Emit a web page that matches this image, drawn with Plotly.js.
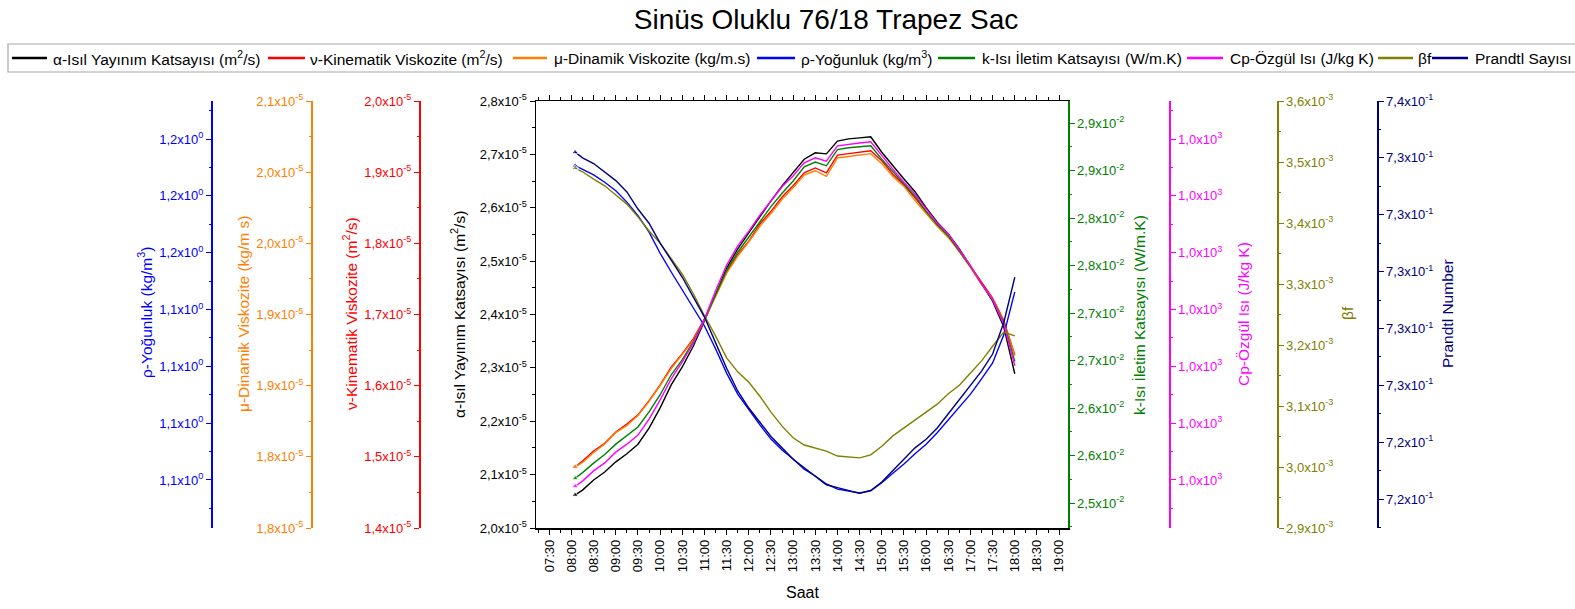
<!DOCTYPE html>
<html>
<head>
<meta charset="utf-8">
<script src="https://cdn.plot.ly/plotly-3.0.1.min.js"></script>
<style>html,body{margin:0;padding:0;background:#fff;}#chart{width:1575px;height:609px;}</style>
</head>
<body>
<div id="chart"></div>
<script>
// ---------------- DATA ----------------
const day = '2024-01-01 ';
const times = ['08:05','08:15','08:30','08:45','09:00','09:15','09:30','09:45','10:00','10:15','10:30','10:45','11:00','11:15','11:30','11:45','12:00','12:15','12:30','12:45','13:00','13:15','13:30','13:45','14:00','14:15','14:30','14:45','15:00','15:15','15:30','15:45','16:00','16:15','16:30','16:45','17:00','17:15','17:30','17:45','18:00'];

const alphaVals = [2.062e-5,2.071e-5,2.090e-5,2.105e-5,2.124e-5,2.139e-5,2.157e-5,2.187e-5,2.225e-5,2.268e-5,2.302e-5,2.341e-5,2.388e-5,2.438e-5,2.487e-5,2.523e-5,2.553e-5,2.585e-5,2.613e-5,2.641e-5,2.665e-5,2.691e-5,2.703e-5,2.701e-5,2.725e-5,2.729e-5,2.731e-5,2.733e-5,2.704e-5,2.678e-5,2.654e-5,2.630e-5,2.600e-5,2.573e-5,2.551e-5,2.523e-5,2.491e-5,2.457e-5,2.425e-5,2.377e-5,2.289e-5];
const nuVals = [1.486e-5,1.494e-5,1.508e-5,1.519e-5,1.535e-5,1.546e-5,1.559e-5,1.579e-5,1.601e-5,1.626e-5,1.645e-5,1.666e-5,1.694e-5,1.726e-5,1.760e-5,1.784e-5,1.803e-5,1.827e-5,1.845e-5,1.865e-5,1.881e-5,1.899e-5,1.906e-5,1.899e-5,1.924e-5,1.926e-5,1.928e-5,1.930e-5,1.916e-5,1.897e-5,1.882e-5,1.864e-5,1.844e-5,1.826e-5,1.810e-5,1.791e-5,1.768e-5,1.746e-5,1.723e-5,1.692e-5,1.643e-5];
const muVals = [1.793e-5,1.796e-5,1.803e-5,1.809e-5,1.817e-5,1.822e-5,1.829e-5,1.839e-5,1.850e-5,1.862e-5,1.872e-5,1.882e-5,1.896e-5,1.912e-5,1.929e-5,1.941e-5,1.951e-5,1.962e-5,1.971e-5,1.981e-5,1.989e-5,1.998e-5,2.001e-5,1.997e-5,2.010e-5,2.011e-5,2.012e-5,2.013e-5,2.006e-5,1.997e-5,1.990e-5,1.980e-5,1.971e-5,1.962e-5,1.954e-5,1.944e-5,1.933e-5,1.921e-5,1.911e-5,1.895e-5,1.871e-5];
const rhoVals = [1.1753,1.1746,1.1737,1.1724,1.1709,1.1689,1.1665,1.1636,1.1599,1.1566,1.1534,1.1501,1.1471,1.1431,1.1388,1.1351,1.1323,1.1297,1.1272,1.1253,1.1237,1.1219,1.1207,1.1193,1.1184,1.1181,1.1177,1.1181,1.1195,1.1212,1.1228,1.1246,1.1263,1.1283,1.1306,1.1328,1.1351,1.1378,1.1406,1.1455,1.1531];
const kVals = [2.526e-2,2.532e-2,2.542e-2,2.551e-2,2.562e-2,2.571e-2,2.580e-2,2.596e-2,2.614e-2,2.635e-2,2.651e-2,2.670e-2,2.693e-2,2.719e-2,2.745e-2,2.764e-2,2.780e-2,2.797e-2,2.812e-2,2.826e-2,2.839e-2,2.854e-2,2.859e-2,2.855e-2,2.872e-2,2.874e-2,2.875e-2,2.876e-2,2.862e-2,2.849e-2,2.836e-2,2.823e-2,2.807e-2,2.793e-2,2.781e-2,2.765e-2,2.749e-2,2.731e-2,2.714e-2,2.690e-2,2.649e-2];
const cpVals = [1005.989,1005.998,1006.016,1006.030,1006.049,1006.063,1006.079,1006.107,1006.141,1006.178,1006.208,1006.241,1006.283,1006.333,1006.378,1006.412,1006.438,1006.466,1006.491,1006.516,1006.535,1006.558,1006.567,1006.561,1006.588,1006.591,1006.593,1006.595,1006.570,1006.547,1006.524,1006.503,1006.477,1006.452,1006.433,1006.406,1006.377,1006.345,1006.317,1006.275,1006.201];
const betaVals = [3.490e-3,3.484e-3,3.472e-3,3.461e-3,3.446e-3,3.431e-3,3.410e-3,3.387e-3,3.367e-3,3.341e-3,3.316e-3,3.284e-3,3.248e-3,3.215e-3,3.179e-3,3.156e-3,3.139e-3,3.116e-3,3.090e-3,3.067e-3,3.048e-3,3.036e-3,3.031e-3,3.026e-3,3.018e-3,3.016e-3,3.015e-3,3.020e-3,3.034e-3,3.051e-3,3.064e-3,3.077e-3,3.090e-3,3.103e-3,3.120e-3,3.134e-3,3.154e-3,3.174e-3,3.198e-3,3.221e-3,3.215e-3];
const prVals = [0.7342,0.7340,0.7338,0.7335,0.7332,0.7328,0.7322,0.7317,0.7310,0.7304,0.7298,0.7291,0.7284,0.7275,0.7266,0.7258,0.7252,0.7247,0.7242,0.7238,0.7234,0.7231,0.7228,0.7225,0.7224,0.7223,0.7222,0.7223,0.7226,0.7230,0.7234,0.7238,0.7241,0.7245,0.7250,0.7255,0.7260,0.7265,0.7271,0.7282,0.7298];

// tick values / labels
const alphaTicks = [2.0e-5,2.1e-5,2.2e-5,2.3e-5,2.4e-5,2.5e-5,2.6e-5,2.7e-5,2.8e-5];
const alphaLabels = ['2,0','2,1','2,2','2,3','2,4','2,5','2,6','2,7','2,8'];
const nuTicks = [1.4e-5,1.5e-5,1.6e-5,1.7e-5,1.8e-5,1.9e-5,2.0e-5];
const nuLabels = ['1,4','1,5','1,6','1,7','1,8','1,9','2,0'];
const muTicks = [1.75e-5,1.80e-5,1.85e-5,1.90e-5,1.95e-5,2.00e-5,2.05e-5];
const muLabels = ['1,8','1,8','1,9','1,9','2,0','2,0','2,1'];
const rhoTicks = [1.12,1.13,1.14,1.15,1.16,1.17,1.18];
const rhoLabels = ['1,1','1,1','1,1','1,1','1,2','1,2','1,2'];
const kTicks = [2.50e-2,2.55e-2,2.60e-2,2.65e-2,2.70e-2,2.75e-2,2.80e-2,2.85e-2,2.90e-2];
const kLabels = ['2,5','2,6','2,6','2,7','2,7','2,8','2,8','2,9','2,9'];
const cpTicks = [1006.0,1006.1,1006.2,1006.3,1006.4,1006.5,1006.6];
const cpLabels = ['1,0','1,0','1,0','1,0','1,0','1,0','1,0'];
const betaTicks = [2.9e-3,3.0e-3,3.1e-3,3.2e-3,3.3e-3,3.4e-3,3.5e-3,3.6e-3];
const betaLabels = ['2,9','3,0','3,1','3,2','3,3','3,4','3,5','3,6'];
const prTicks = [0.722,0.724,0.726,0.728,0.730,0.732,0.734,0.736];
const prLabels = ['7,2','7,2','7,3','7,3','7,3','7,3','7,3','7,4'];

const seriesNames = ['α-Isıl Yayınım Katsayısı (m<sup>2</sup>/s)','ν-Kinematik Viskozite (m<sup>2</sup>/s)','μ-Dinamik Viskozite (kg/m.s)','ρ-Yoğunluk (kg/m<sup>3</sup>)','k-Isı İletim Katsayısı (W/m.K)','Cp-Özgül Isı (J/kg K)','βf','Prandtl Sayısı'];
const axisTitles = ['α-Isıl Yayınım Katsayısı (m<sup>2</sup>/s)','ν-Kinematik Viskozite (m<sup>2</sup>/s)','μ-Dinamik Viskozite (kg/m s)','ρ-Yoğunluk (kg/m<sup>3</sup>)','k-Isı İletim Katsayısı (W/m.K)','Cp-Özgül Isı (J/kg K)','βf','Prandtl Number'];

// ---------------- STYLE ----------------
const W = 1575, H = 609;
const FONT = 'Liberation Sans, Arial, Helvetica, sans-serif';
const colors = ['#000000','#ff0000','#ff8000','#0000ff','#008000','#ff00ff','#808000','#000080'];
const px = x => x / W;
const py = y => 1 - y / H;

const x = times.map(t => day + t);
const sup = (arr, e) => arr.map(s => s + 'x10<sup>' + e + '</sup>');

const seriesList = [alphaVals, nuVals, muVals, rhoVals, kVals, cpVals, betaVals, prVals];
const axisIds = ['y','y2','y3','y4','y5','y6','y7','y8'];
const traces = seriesList.map((vals, i) => ({
  type: 'scatter', mode: 'lines+markers', x: x, y: vals, yaxis: axisIds[i], xaxis: 'x',
  name: seriesNames[i],
  line: {color: colors[i], width: 1.4},
  marker: {color: colors[i], symbol: 'triangle-up', size: vals.map((v, j) => j === 0 ? 6 : 0)},
  hoverinfo: 'skip'
}));

function axisY(color, range, vals, texts, exp, minorStep, extra) {
  return Object.assign({
    range: range, tickmode: 'array', tickvals: vals, ticktext: sup(texts, exp),
    ticks: 'outside', ticklen: 5, tickwidth: 1, tickcolor: color,
    showline: true, linecolor: color, linewidth: 1.5,
    showgrid: false, zeroline: false, fixedrange: true,
    tickfont: {family: FONT, size: 13, color: color},
    minor: {ticks: 'outside', ticklen: 2.5, tickwidth: 1, tickcolor: color, tickmode: 'linear', tick0: vals[0], dtick: minorStep, showgrid: false}
  }, extra);
}

const yDom = [py(528), py(101)];
const layout = {
  width: W, height: H,
  margin: {l: 0, r: 0, t: 0, b: 0},
  paper_bgcolor: '#ffffff', plot_bgcolor: '#ffffff',
  showlegend: false,
  font: {family: FONT, color: '#000'},
  title: {text: 'Sinüs Oluklu 76/18 Trapez Sac', x: px(826), xref: 'paper', xanchor: 'center',
          y: py(19), yref: 'container', yanchor: 'middle', font: {family: FONT, size: 28, color: '#000'}},
  xaxis: {
    type: 'date', domain: [px(536), px(1068)], anchor: 'y',
    range: [day + '07:12', day + '19:12'],
    tickmode: 'linear', tick0: day + '07:30', dtick: 1800000, tickformat: '%H:%M', tickangle: -90,
    ticks: 'outside', ticklen: 5, tickwidth: 1, tickcolor: '#000',
    showline: true, linecolor: '#000', linewidth: 1.5, mirror: 'ticks',
    showgrid: false, zeroline: false, fixedrange: true,
    tickfont: {family: FONT, size: 13, color: '#000'},
    minor: {ticks: 'outside', ticklen: 3, tickwidth: 1, tickcolor: '#000', tickmode: 'linear', tick0: day + '07:15', dtick: 900000, showgrid: false}
  },
  yaxis: axisY(colors[0], [2.0e-5, 2.8e-5], alphaTicks, alphaLabels, '-5', 0.05e-5, {domain: yDom, anchor: 'x', side: 'left'}),
  yaxis2: axisY(colors[1], [1.4e-5, 2.0e-5], nuTicks, nuLabels, '-5', 0.05e-5, {overlaying: 'y', anchor: 'free', position: px(419), side: 'left'}),
  yaxis3: axisY(colors[2], [1.75e-5, 2.05e-5], muTicks, muLabels, '-5', 0.025e-5, {overlaying: 'y', anchor: 'free', position: px(311), side: 'left'}),
  yaxis4: axisY(colors[3], [1.11155, 1.18669], rhoTicks, rhoLabels, '0', 0.005, {overlaying: 'y', anchor: 'free', position: px(211), side: 'left'}),
  yaxis5: axisY(colors[4], [2.4737e-2, 2.9232e-2], kTicks, kLabels, '-2', 0.025e-2, {overlaying: 'y', anchor: 'x', side: 'right'}),
  yaxis6: axisY(colors[5], [1005.9155, 1006.6669], cpTicks, cpLabels, '3', 0.05, {overlaying: 'y', anchor: 'free', position: px(1169), side: 'right'}),
  yaxis7: axisY(colors[6], [2.9e-3, 3.6e-3], betaTicks, betaLabels, '-3', 0.05e-3, {overlaying: 'y', anchor: 'free', position: px(1277), side: 'right'}),
  yaxis8: axisY(colors[7], [0.72098, 0.736], prTicks, prLabels, '-1', 0.001, {overlaying: 'y', anchor: 'free', position: px(1377), side: 'right'}),
  shapes: [],
  annotations: []
};

// axis titles (rotated)
const titlePos = [[458, 314], [350, 314], [243, 314], [145, 313], [1139, 315], [1243, 314], [1347, 313], [1447, 314]];
axisTitles.forEach((t, i) => {
  layout.annotations.push({text: t, xref: 'paper', yref: 'paper', x: px(titlePos[i][0]), y: py(titlePos[i][1]),
    xanchor: 'center', yanchor: 'middle', textangle: -90, showarrow: false,
    font: {family: FONT, size: 15.5, color: colors[i]}});
});
layout.annotations.push({text: 'Saat', xref: 'paper', yref: 'paper', x: px(802), y: py(592),
  xanchor: 'center', yanchor: 'middle', showarrow: false, font: {family: FONT, size: 16, color: '#000'}});

// manual legend (box runs past the right edge, as in the original)
layout.shapes.push({type: 'rect', xref: 'paper', yref: 'paper', x0: px(8), x1: px(1600), y0: py(72), y1: py(44),
  line: {color: '#a8a8a8', width: 1.2}, fillcolor: '#ffffff', layer: 'below'});
const legLine = [[12, 47], [268, 305], [513, 547], [757, 795], [938, 975], [1187, 1223], [1378, 1413], [1432, 1468]];
const legText = [51, 308, 552, 799, 980, 1228, 1416, 1473];
seriesNames.forEach((n, i) => {
  layout.shapes.push({type: 'line', xref: 'paper', yref: 'paper', x0: px(legLine[i][0]), x1: px(legLine[i][1]),
    y0: py(58), y1: py(58), line: {color: colors[i], width: 2.5}});
  layout.annotations.push({text: n, xref: 'paper', yref: 'paper', x: px(legText[i]), y: py(58),
    xanchor: 'left', yanchor: 'middle', showarrow: false, font: {family: FONT, size: 15.5, color: '#000'}});
});

Plotly.newPlot('chart', traces, layout, {staticPlot: true, displayModeBar: false});
</script>
</body>
</html>
